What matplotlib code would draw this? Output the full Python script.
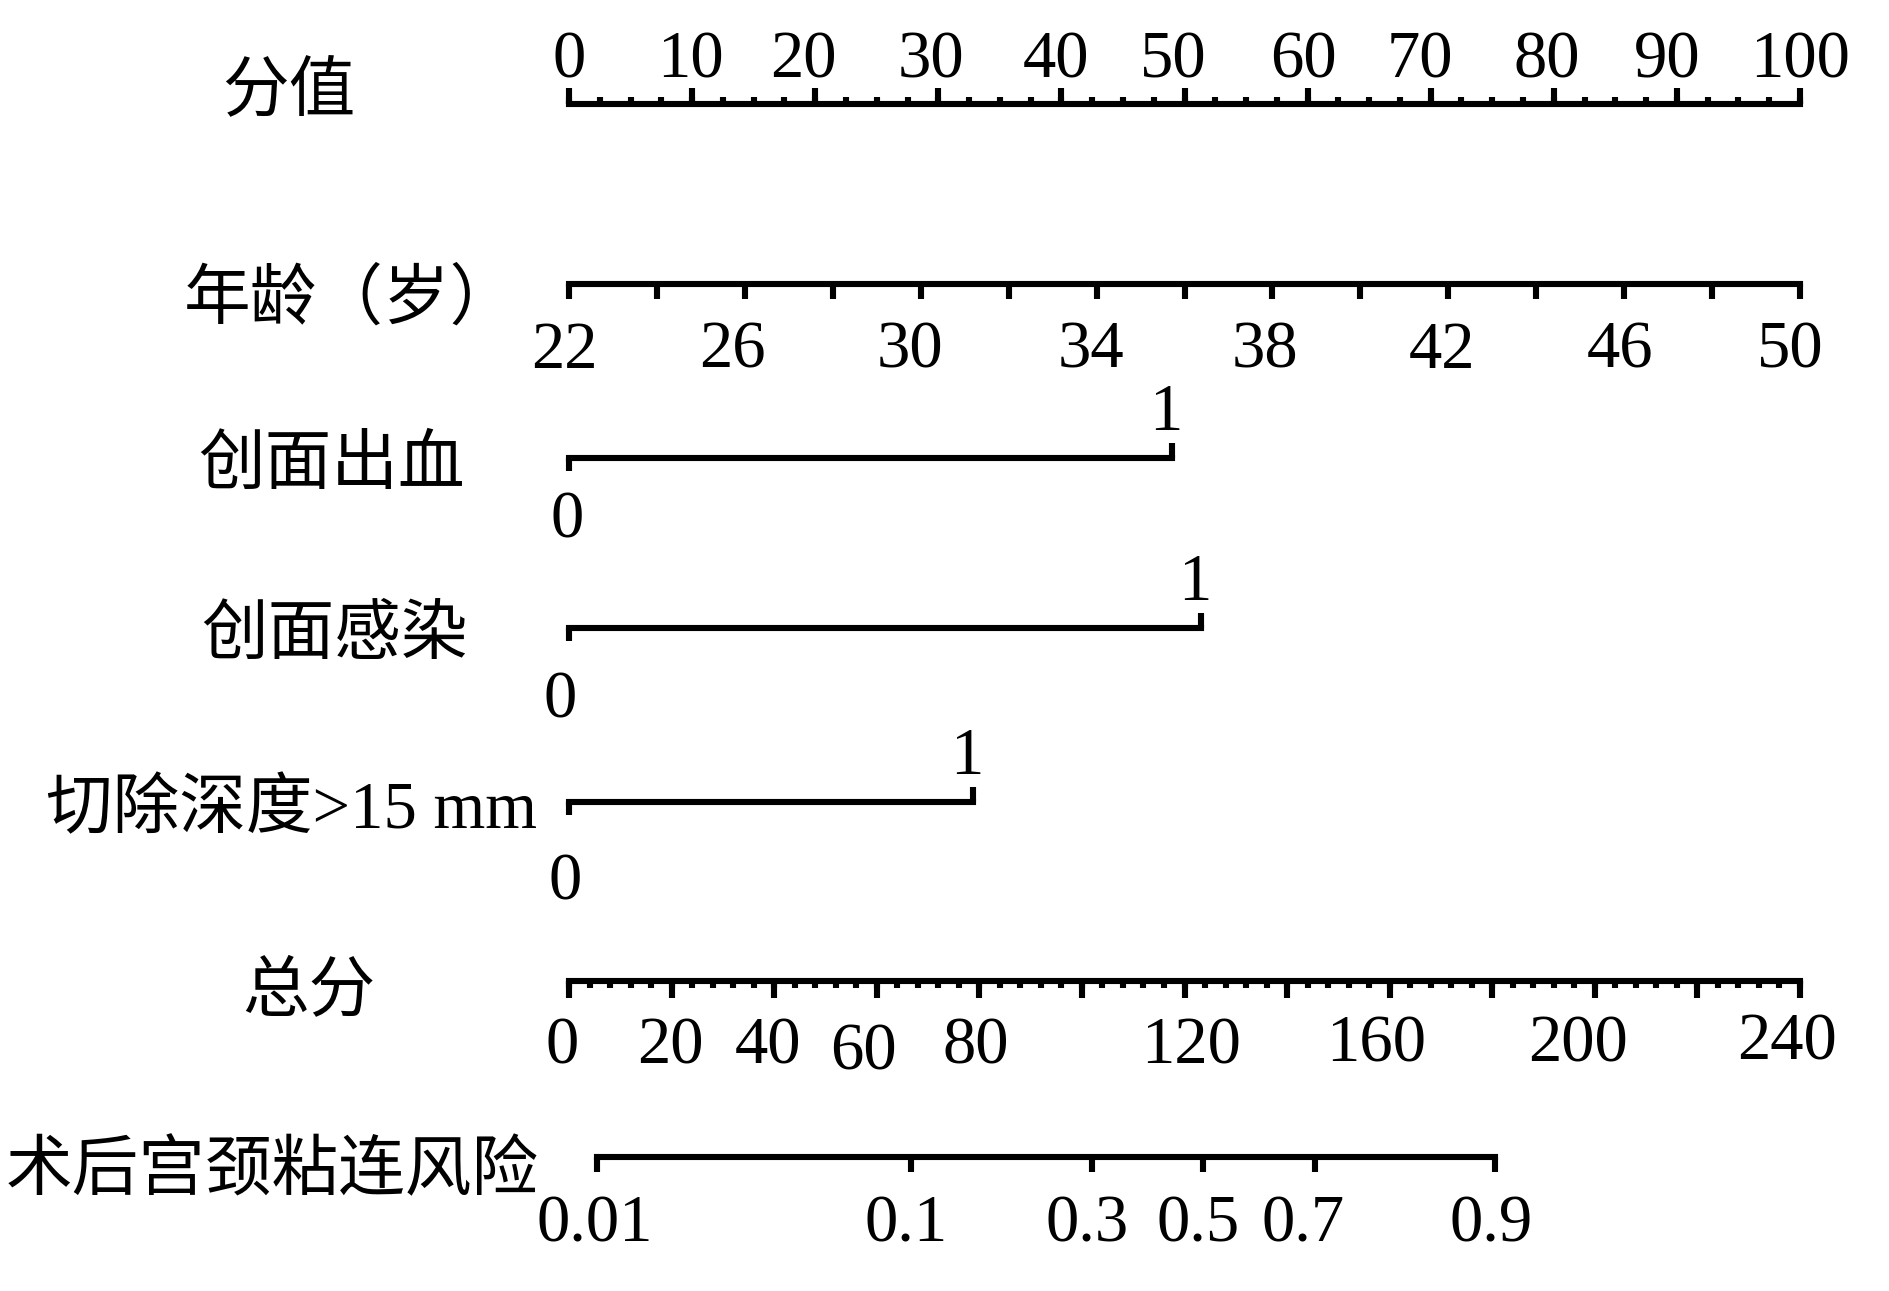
import numpy as np
import matplotlib
matplotlib.use("Agg")
from matplotlib import pyplot as plt

# Points scale (0-100)
points_major = np.arange(0, 101, 10)
points_minor = np.arange(0, 100.1, 2.5)

# Age (years), mapped linearly onto 0-100 points
age_min, age_max = 22, 50
age_ticks = np.arange(22, 51, 2)
age_labels = np.arange(22, 51, 4)

# Binary predictors: points given to level 1 (level 0 = 0 points)
binary_names = ["创面出血", "创面感染", "切除深度>15 mm"]
binary_points = [49.0, 51.3, 32.8]

# Total points scale
total_max = 240
total_major = np.arange(0, 241, 20)
total_minor = np.arange(0, 241, 4)
total_labels = [0, 20, 40, 60, 80, 120, 160, 200, 240]

risk_values = ["0.01", "0.1", "0.3", "0.5", "0.7", "0.9"]
risk_total_points = [5.5, 66.7, 102.0, 123.6, 145.4, 180.5]

# Layout (pixels of the 1890 x 1291 canvas)
W, H = 1890, 1291
X0, PX_PER_PT = 569, 12.31
LW = 4.4
FONT = ["Liberation Serif", "Noto Sans CJK SC"]
NUM_FS = 48
LAB_FS = 48

# small horizontal nudges of the tick labels (px), as in the original
points_dx = [0, -2, -12, -7, -5, -11, -4, -11, -7, -10, 0]
age_dx = [-5, -12, -11, -6, -7, -6, -4, -10]
total_dx = [-7, -1, -6, -13, -4, 7, -14, -17, -13]
total_dy = [0, 0, 0, 7, 0, 0, -2, -2, -4]
risk_dx = [-2, -5, -5, -5, -12, -4]
zero_dx = [-2, -9, -4]


def px2pt(px):
    return (px - X0) / PX_PER_PT


fig = plt.figure(figsize=(W / 100, H / 100), dpi=100)
ax = fig.add_axes([0, 0, 1, 1])
ax.set_xlim(px2pt(0), px2pt(W))
ax.set_ylim(H, 0)
ax.axis("off")

line_kw = dict(color="black", lw=LW, solid_capstyle="projecting")
num_kw = dict(family=FONT, fontsize=NUM_FS, ha="center", va="baseline")
lab_kw = dict(family=FONT, fontsize=LAB_FS, ha="center", va="center")

# --- 分值 ---
y = 104
ax.plot([0, 100], [y, y], **line_kw)
ax.vlines(points_minor, y - 7, y, color="black", lw=LW)
ax.vlines(points_major, y - 16, y, color="black", lw=LW)
for v, dx in zip(points_major, points_dx):
    ax.text(v + dx / PX_PER_PT, 78, f"{v}", **num_kw)
ax.text(px2pt(289), 93, "分值", **lab_kw)

# --- 年龄（岁） ---
y = 284
age_pts = lambda a: (np.asarray(a) - age_min) / (age_max - age_min) * 100
ax.plot([0, 100], [y, y], **line_kw)
ax.vlines(age_pts(age_ticks), y, y + 15, color="black", lw=LW)
for a, dx in zip(age_labels, age_dx):
    ax.text(age_pts(a) + dx / PX_PER_PT, 368, f"{a}", **num_kw)
ax.text(px2pt(350), 301, "年龄（岁）", **lab_kw)

# --- binary predictors ---
rows_y = [458, 628, 802]
zero_off = [79, 90, 97]
name_x = [331, 334, 292]
for name, pts, y, zo, nx, zdx in zip(binary_names, binary_points, rows_y,
                                     zero_off, name_x, zero_dx):
    ax.plot([0, pts], [y, y], **line_kw)
    ax.vlines([0], y, y + 13, color="black", lw=LW)
    ax.vlines([pts], y - 15, y, color="black", lw=LW)
    ax.text(pts - 0.5, y - 28, "1", **num_kw)
    ax.text(zdx / PX_PER_PT, y + zo, "0", **num_kw)
    ax.text(px2pt(nx), y + 9, name, **lab_kw)

# --- 总分 ---
y = 981
tp = lambda t: np.asarray(t) / total_max * 100
ax.plot([0, 100], [y, y], **line_kw)
ax.vlines(tp(total_minor), y, y + 7, color="black", lw=LW)
ax.vlines(tp(total_major), y, y + 17, color="black", lw=LW)
for t, dx, dy in zip(total_labels, total_dx, total_dy):
    ax.text(tp(t) + dx / PX_PER_PT, 1063 + dy, f"{t}", **num_kw)
ax.text(px2pt(309), 994, "总分", **lab_kw)

# --- 术后宫颈粘连风险 ---
y = 1157
rpos = tp(risk_total_points)
ax.plot([rpos[0], rpos[-1]], [y, y], **line_kw)
ax.vlines(rpos, y, y + 15, color="black", lw=LW)
for r, p, dx in zip(risk_values, rpos, risk_dx):
    ax.text(p + dx / PX_PER_PT, 1242, r, **num_kw)
ax.text(px2pt(272), 1173, "术后宫颈粘连风险", **lab_kw)

fig.savefig("out.png", dpi=100, facecolor="white")
